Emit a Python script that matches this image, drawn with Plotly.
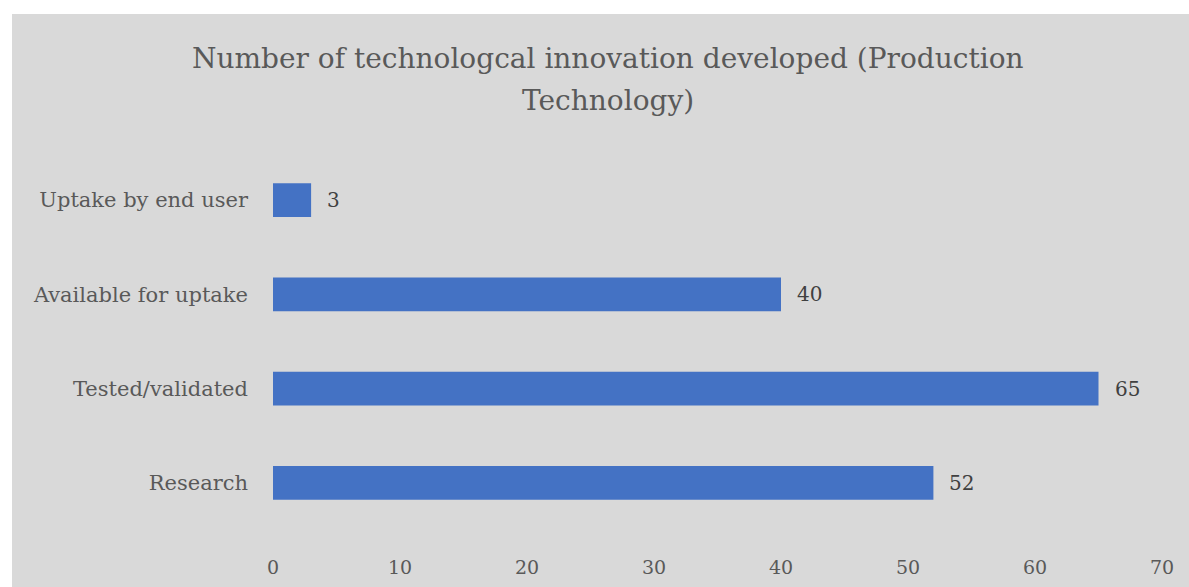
import plotly.graph_objects as go

# Stages of technology development and the count of innovations at each stage
stages = ["Research", "Tested/validated", "Available for uptake", "Uptake by end user"]
counts = [52, 65, 40, 3]
x_ticks = [0, 10, 20, 30, 40, 50, 60, 70]

title_lines = ["Number of technologcal innovation developed (Production", "Technology)"]

FONT = "DejaVu Serif, Liberation Serif, serif"
GRAY_TEXT = "#595959"
LABEL_TEXT = "#404040"
BAR_BLUE = "#4472c4"
PANEL = "#d9d9d9"

W, H = 1189, 587
L, R, T, B = 273, 27, 153, 57
pw, ph = W - L - R, H - T - B

# helpers converting pixel positions to paper coordinates
px = lambda p: (p - L) / pw
py = lambda p: (H - B - p) / ph

fig = go.Figure()
fig.add_trace(go.Bar(
    y=stages,
    x=counts,
    orientation="h",
    width=0.36,
    marker=dict(color=BAR_BLUE, line=dict(width=0)),
    hoverinfo="skip",
))

# value labels placed just past the end of each bar
for s, c in zip(stages, counts):
    fig.add_annotation(
        x=c, y=s, xref="x", yref="y",
        text=str(c), showarrow=False,
        xanchor="left", yanchor="middle", xshift=14,
        font=dict(family=FONT, size=20, color=LABEL_TEXT),
    )

# two-line chart title, one annotation per line
for line, ypix in zip(title_lines, [58, 101]):
    fig.add_annotation(
        x=px(608), y=py(ypix), xref="paper", yref="paper",
        text=line, showarrow=False,
        xanchor="center", yanchor="middle",
        font=dict(family=FONT, size=28, color=GRAY_TEXT),
    )

# grey chart panel behind everything
fig.add_shape(
    type="rect", xref="paper", yref="paper",
    x0=px(12), x1=px(W + 5), y0=py(H + 5), y1=py(14),
    fillcolor=PANEL, line=dict(width=0), layer="below",
)

fig.update_layout(
    width=W, height=H,
    margin=dict(l=L, r=R, t=T, b=B, autoexpand=False),
    paper_bgcolor="white",
    plot_bgcolor="rgba(0,0,0,0)",
    showlegend=False,
    xaxis=dict(
        range=[0, 70],
        tickvals=x_ticks,
        automargin=False,
        showgrid=False, zeroline=False, showline=False,
        ticks="", ticklabelstandoff=24,
        tickfont=dict(family=FONT, size=19, color=GRAY_TEXT),
    ),
    yaxis=dict(
        categoryorder="array", categoryarray=stages,
        range=[-0.5, 3.5],
        automargin=False,
        showgrid=False, zeroline=False, showline=False,
        ticks="", ticklabelstandoff=24,
        tickfont=dict(family=FONT, size=21, color=GRAY_TEXT),
    ),
)

fig.write_html("out.html")
